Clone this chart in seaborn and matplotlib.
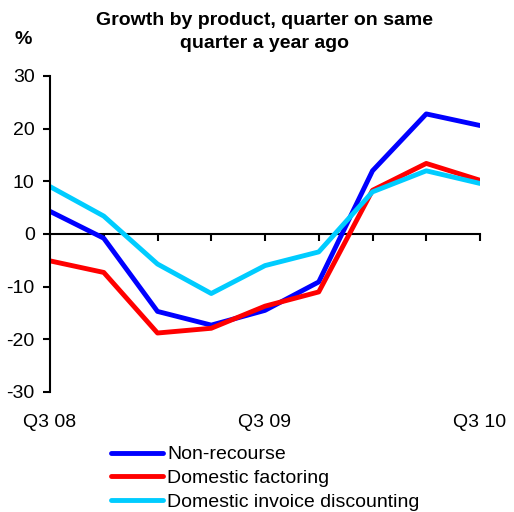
import pandas as pd
import seaborn as sns
import matplotlib.pyplot as plt

# data
quarters = ["Q3 08", "Q4 08", "Q1 09", "Q2 09", "Q3 09", "Q4 09", "Q1 10", "Q2 10", "Q3 10"]
non_recourse = [4.3, -0.8, -14.7, -17.3, -14.5, -9.1, 12.0, 22.8, 20.6]
domestic_factoring = [-5.1, -7.3, -18.8, -17.9, -13.7, -11.0, 8.3, 13.4, 10.2]
invoice_discounting = [9.0, 3.4, -5.7, -11.3, -6.0, -3.4, 8.0, 12.0, 9.6]
series_names = ["Non-recourse", "Domestic factoring", "Domestic invoice discounting"]
colors = ["#0000FF", "#FF0000", "#00CCFF"]
label_quarters = ["Q3 08", "Q3 09", "Q3 10"]

rows = []
for name, vals in zip(series_names, [non_recourse, domestic_factoring, invoice_discounting]):
    for i, v in enumerate(vals):
        rows.append({"pos": i, "quarter": quarters[i], "value": v, "series": name})
df = pd.DataFrame(rows)

sns.set_style("white")
plt.rcParams["font.family"] = ["Liberation Sans", "DejaVu Sans"]
plt.rcParams["axes.unicode_minus"] = False
plt.rcParams["text.color"] = "black"
plt.rcParams["xtick.color"] = "black"
plt.rcParams["ytick.color"] = "black"

fig = plt.figure(figsize=(5.14, 5.12), dpi=100)
ax = fig.add_axes([50 / 514, 1 - 392 / 512, 430 / 514, 316 / 512])

sns.lineplot(data=df, x="pos", y="value", hue="series", palette=colors,
             hue_order=series_names, linewidth=3.5, ax=ax, legend=True)
for line in ax.lines:
    line.set_solid_joinstyle("round")

ax.set_xlim(0, len(quarters) - 1)
ax.set_ylim(-30, 30)
ax.set_yticks([-30, -20, -10, 0, 10, 20, 30])
ax.set_xticks(range(len(quarters)))
ax.set_xticklabels([])
ax.set_xlabel("")
ax.set_ylabel("")

for s in ["top", "right"]:
    ax.spines[s].set_visible(False)
ax.spines["bottom"].set_position(("data", 0))
ax.spines["bottom"].set_zorder(0)
for s in ["left", "bottom"]:
    ax.spines[s].set_color("black")
    ax.spines[s].set_linewidth(1.5)
ax.tick_params(axis="both", bottom=True, left=True, direction="out",
               length=5, width=1.5, color="black", labelcolor="black")
ax.tick_params(axis="y", labelsize=14, pad=6)

# quarter labels below the plot
sec = ax.secondary_xaxis("bottom")
sec.set_xticks([quarters.index(q) for q in label_quarters], label_quarters)
sec.spines["bottom"].set_visible(False)
sec.tick_params(length=0, labelsize=14, pad=16, labelcolor="black")

ax.text(-0.083, 1.115, "%", transform=ax.transAxes, fontsize=14, fontweight="bold",
        ha="left", va="center")
fig.text(265 / 514, 1 - 32 / 512, "Growth by product, quarter on same\nquarter a year ago",
         ha="center", va="center", fontsize=14, fontweight="bold", linespacing=1.45)

handles, labels = ax.get_legend_handles_labels()
ax.legend(handles, labels, loc="upper left", bbox_to_anchor=(101 / 514, 1 - 436 / 512),
          bbox_transform=fig.transFigure, frameon=False, fontsize=14,
          handlelength=2.7, handletextpad=0.2, labelspacing=0.32, borderpad=0)

fig.savefig("out.png", dpi=100, facecolor="white")
